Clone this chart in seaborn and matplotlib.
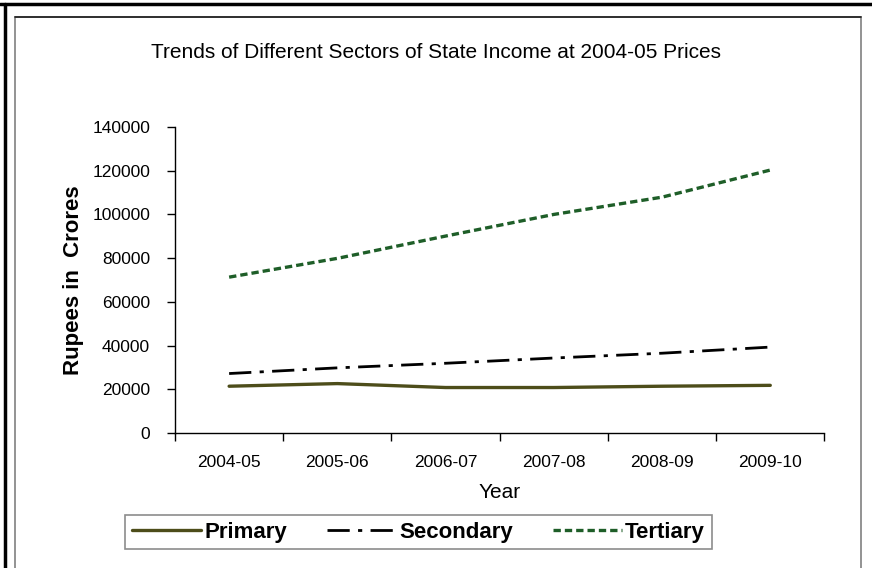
import pandas as pd
import matplotlib.pyplot as plt
import seaborn as sns
from matplotlib.patches import Rectangle
from matplotlib.lines import Line2D

years = ['2004-05', '2005-06', '2006-07', '2007-08', '2008-09', '2009-10']
primary = [21400, 22600, 20800, 20800, 21400, 21800]
secondary = [27200, 29800, 31900, 34300, 36500, 39300]
tertiary = [71300, 79900, 90100, 100000, 107900, 120300]
yticks = [0, 20000, 40000, 60000, 80000, 100000, 120000, 140000]

df = pd.DataFrame({'Year': years, 'Primary': primary,
                   'Secondary': secondary, 'Tertiary': tertiary})
df['x'] = range(len(years))

sns.set_style('white')
plt.rcParams['font.family'] = ['Liberation Sans', 'DejaVu Sans']
plt.rcParams.update({'text.color': 'black', 'axes.labelcolor': 'black',
                     'xtick.color': 'black', 'ytick.color': 'black'})

fig = plt.figure(figsize=(8.72, 5.68), dpi=100)
ax = fig.add_axes([0.2007, 0.2377, 0.7447, 0.5387])

sns.lineplot(data=df, x='x', y='Primary', ax=ax, color='#4d4d1a',
             linewidth=2.4, label='Primary')
sns.lineplot(data=df, x='x', y='Secondary', ax=ax, color='black',
             linewidth=2.0, label='Secondary')
ax.lines[-1].set_dashes([8, 3, 1.5, 3])
sns.lineplot(data=df, x='x', y='Tertiary', ax=ax, color='#1e5e28',
             linewidth=2.4, label='Tertiary')
ax.lines[-1].set_dashes([2.2, 1.2])

ax.set_xlim(-0.5, len(years) - 0.5)
ax.set_ylim(0, 140000)
ax.set_yticks(yticks)
ax.set_yticklabels([str(v) for v in yticks], fontsize=12.5)
ax.set_xticks([i - 0.5 for i in range(len(years) + 1)])
ax.set_xticklabels([])
ax.set_xticks(range(len(years)), minor=True)
ax.set_xticklabels(years, minor=True, fontsize=12.5)
ax.tick_params(axis='x', which='major', length=6, width=1, direction='out', bottom=True)
ax.tick_params(axis='x', which='minor', length=0, pad=16)
ax.tick_params(axis='y', length=6, width=1, direction='out', left=True, pad=12)

for s in ['top', 'right']:
    ax.spines[s].set_visible(False)
for s in ['left', 'bottom']:
    ax.spines[s].set_color('black')
    ax.spines[s].set_linewidth(1)

ax.set_xlabel('Year', fontsize=15, labelpad=9)
ax.set_ylabel('Rupees in  Crores', fontsize=16, fontweight='bold', labelpad=6)
ax.legend_.remove()

fig.text(0.5, 0.907, 'Trends of Different Sectors of State Income at 2004-05 Prices',
         ha='center', va='center', fontsize=15)

leg = fig.legend(handles=ax.lines[:3], labels=['Primary', 'Secondary', 'Tertiary'],
                 loc='center', bbox_to_anchor=(0.48, 0.063), ncol=3,
                 prop={'weight': 'bold', 'size': 16}, frameon=True,
                 fancybox=False, edgecolor='#707070', handlelength=3.1,
                 columnspacing=1.8, handletextpad=0.15, borderpad=0.3)
leg.get_frame().set_linewidth(1.2)

# outer frame of the chart
fig.add_artist(Rectangle((15 / 872, -0.05), 846 / 872, 1.05 - 17 / 568,
                         transform=fig.transFigure, fill=False,
                         edgecolor='#808080', linewidth=1.2))
fig.add_artist(Line2D([15 / 872, 861 / 872], [1 - 17 / 568, 1 - 17 / 568],
                      transform=fig.transFigure, color='#202020', linewidth=1.2))
fig.add_artist(Line2D([0, 1], [1 - 4 / 568, 1 - 4 / 568], transform=fig.transFigure,
                      color='black', linewidth=2.5))
fig.add_artist(Line2D([5 / 872, 5 / 872], [0, 1 - 4 / 568], transform=fig.transFigure,
                      color='black', linewidth=2.5))

fig.savefig('out.png', dpi=100)
